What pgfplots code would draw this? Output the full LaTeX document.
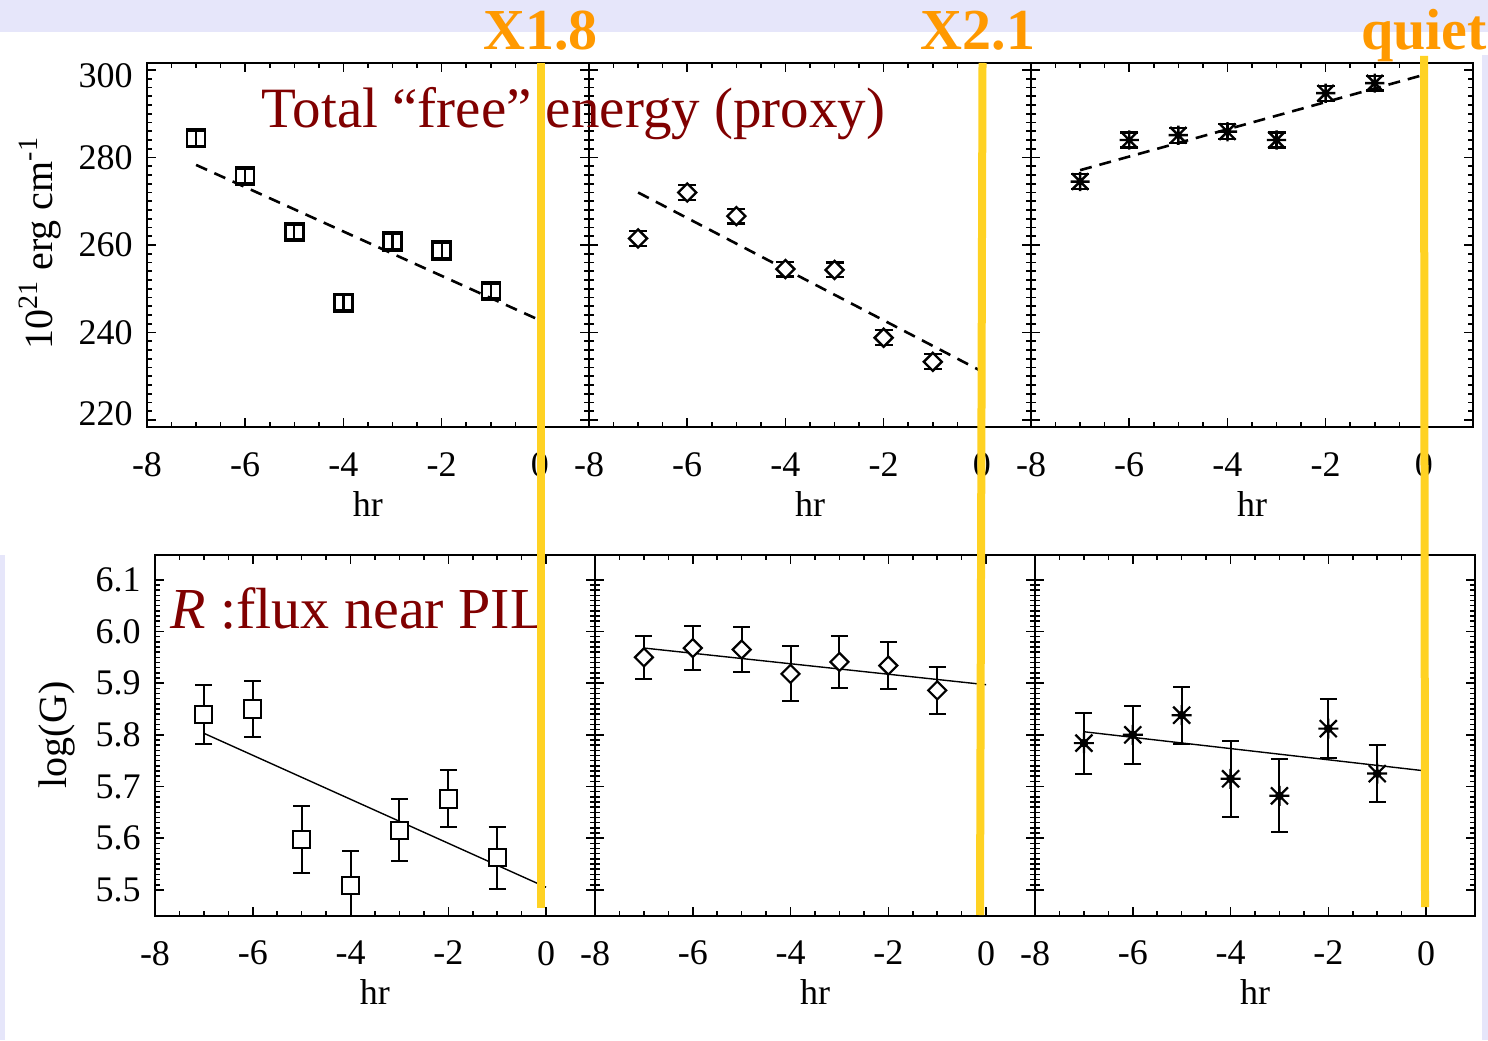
\documentclass[border=0pt]{standalone}
\usepackage{fontspec}
\setmainfont{Liberation Serif}
\usepackage{pgfplots}
\pgfplotsset{compat=1.18}
\definecolor{lav}{RGB}{230,230,250}
\definecolor{orng}{RGB}{255,153,0}
\definecolor{dred}{RGB}{128,0,0}
\definecolor{ylw}{RGB}{255,210,35}

\pgfdeclareplotmark{sqd}{%
 \pgfpathmoveto{\pgfqpoint{0pt}{\pgfplotmarksize}}%
 \pgfpathlineto{\pgfqpoint{\pgfplotmarksize}{0pt}}%
 \pgfpathlineto{\pgfqpoint{0pt}{-\pgfplotmarksize}}%
 \pgfpathlineto{\pgfqpoint{-\pgfplotmarksize}{0pt}}%
 \pgfpathclose\pgfusepathqfillstroke}
\pgfdeclareplotmark{xast}{%
 \pgfpathmoveto{\pgfqpoint{-\pgfplotmarksize}{0pt}}\pgfpathlineto{\pgfqpoint{\pgfplotmarksize}{0pt}}%
 \pgfpathmoveto{\pgfqpoint{-0.85\pgfplotmarksize}{-0.85\pgfplotmarksize}}\pgfpathlineto{\pgfqpoint{0.85\pgfplotmarksize}{0.85\pgfplotmarksize}}%
 \pgfpathmoveto{\pgfqpoint{-0.85\pgfplotmarksize}{0.85\pgfplotmarksize}}\pgfpathlineto{\pgfqpoint{0.85\pgfplotmarksize}{-0.85\pgfplotmarksize}}%
 \pgfpathmoveto{\pgfqpoint{0pt}{-\pgfplotmarksize}}\pgfpathlineto{\pgfqpoint{0pt}{\pgfplotmarksize}}%
 \pgfusepathqstroke}

\newcommand{\tl}{\fontsize{18pt}{20pt}\selectfont}

\pgfplotsset{
 panel/.style={
  scale only axis, anchor=south west,
  xmin=-8, xmax=1,
  xtick={-8,-6,-4,-2,0}, xticklabels={-8,-6,-4,-2,0},
  minor x tick num=3,
  tick align=inside,
  major tick length=4.5pt, minor tick length=2.5pt,
  tick style={black, line width=0.8pt},
  axis line style={line width=1pt},
  tick label style={font=\tl},
  xticklabel style={inner sep=0pt, anchor=north, yshift=-12.5pt},
  yticklabel style={inner sep=0pt, anchor=east, xshift=-7pt},
  xlabel={hr},
  xlabel style={font=\tl, inner sep=0pt, at={(axis description cs:0.5,0)}, anchor=base, yshift=-44.5pt},
 },
 toprow/.style={panel, width=221pt, height=182pt, ymin=218.4, ymax=301.6,
  ytick={220,240,260,280,300}, minor y tick num=9},
 botrow/.style={panel, width=220pt, height=180.35pt, ymin=5.45, ymax=6.148,
  ytick={5.5,5.6,5.7,5.8,5.9,6.0,6.1}, minor y tick num=9},
 topmk/.style={black, only marks, mark options={line width=1.2pt, solid, fill=white},
  error bars/.cd, y dir=both, y explicit,
  error bar style={line width=1.1pt, black, solid},
  error mark options={rotate=90, mark size=4.5pt, line width=1.1pt, black}, /pgfplots/.cd},
 errb/.style={black, only marks, mark=none,
  error bars/.cd, y dir=both, y explicit,
  error bar style={line width=1pt, black, solid},
  error mark options={rotate=90, mark size=4.25pt, line width=1pt, black}, /pgfplots/.cd},
 fitd/.style={black, line width=1.3pt, dash pattern=on 6pt off 4pt, mark=none},
 fits/.style={black, line width=0.7pt, mark=none},
}

\begin{document}
\begin{tikzpicture}
\useasboundingbox (0,0) rectangle (744pt,520pt);
\fill[lav] (0,0) rectangle (744pt,520pt);
\fill[white] (0,0) rectangle (744pt,504pt);
\fill[lav] (741pt,0) rectangle (744pt,492.5pt);
\fill[lav] (0,0) rectangle (2.5pt,242.5pt);

% ---------- top row ----------
\begin{axis}[toprow, at={(73.5pt,306.5pt)},
  yticklabels={\raisebox{3.5pt}[12.2pt][0pt]{220},240,260,280,\raisebox{-2.5pt}[12.2pt][0pt]{300}},
  ylabel={10\textsuperscript{21} erg cm\textsuperscript{-1}},
  ylabel style={font=\fontsize{20pt}{22pt}\selectfont, at={(axis description cs:-0.242,0.505)}, anchor=center}]
\addplot[fitd] coordinates {(-7,278.3) (0,242.8)};
\addplot[topmk, mark=square, mark size=4.5pt] coordinates {
(-7,284.4) +- (0,1.7) (-6,275.8) +- (0,1.7) (-5,263.0) +- (0,1.7) (-4,246.8) +- (0,1.7)
(-3,260.8) +- (0,1.7) (-2,258.7) +- (0,1.7) (-1,249.5) +- (0,1.7)};
\end{axis}

\begin{axis}[toprow, at={(294.5pt,306.5pt)}, yticklabels={}]
\addplot[fitd] coordinates {(-7,272.0) (0,231.1)};
\addplot[topmk, mark=sqd, mark size=4.5pt] coordinates {
(-7,261.5) +- (0,1.7) (-6,272.0) +- (0,1.7) (-5,266.6) +- (0,1.7) (-4,254.5) +- (0,1.7)
(-3,254.3) +- (0,1.7) (-2,238.8) +- (0,1.7) (-1,233.3) +- (0,1.7)};
\end{axis}

\begin{axis}[toprow, at={(515.5pt,306.5pt)}, yticklabels={}]
\addplot[fitd] coordinates {(-7,277.1) (0,298.9)};
\addplot[topmk, mark=xast, mark size=4.8pt] coordinates {
(-7,274.5) +- (0,1.7) (-6,284.0) +- (0,1.7) (-5,285.1) +- (0,1.7) (-4,285.9) +- (0,1.7)
(-3,284.0) +- (0,1.7) (-2,294.7) +- (0,1.7) (-1,297.0) +- (0,1.7)};
\end{axis}

% ---------- bottom row ----------
\begin{axis}[botrow, at={(77.5pt,62.15pt)},
  yticklabels={5.5,5.6,5.7,5.8,5.9,6.0,6.1},
  ylabel={log(G)},
  ylabel style={font=\fontsize{20pt}{22pt}\selectfont, at={(axis description cs:-0.2227,0.501)}, anchor=center}]
\addplot[errb] coordinates {
(-7,5.839) +- (0,0.057) (-6,5.850) +- (0,0.055) (-5,5.597) +- (0,0.065) (-4,5.509) +- (0,0.067)
(-3,5.615) +- (0,0.060) (-2,5.676) +- (0,0.055) (-1,5.562) +- (0,0.060)};
\addplot[black, only marks, mark=square*, mark size=4.3pt, mark options={fill=white, draw=black, line width=1pt}] coordinates {
(-7,5.839) (-6,5.850) (-5,5.597) (-4,5.509) (-3,5.615) (-2,5.676) (-1,5.562)};
\addplot[fits] coordinates {(-7,5.803) (0,5.505)};
\end{axis}

\begin{axis}[botrow, at={(297.5pt,62.15pt)}, yticklabels={}]
\addplot[errb] coordinates {
(-7,5.950) +- (0,0.042) (-6,5.968) +- (0,0.0425) (-5,5.965) +- (0,0.043) (-4,5.918) +- (0,0.053)
(-3,5.941) +- (0,0.050) (-2,5.934) +- (0,0.046) (-1,5.886) +- (0,0.046)};
\addplot[black, only marks, mark=sqd, mark size=4.5pt, mark options={fill=white, draw=black, line width=1.1pt}] coordinates {
(-7,5.950) (-6,5.968) (-5,5.965) (-4,5.918) (-3,5.941) (-2,5.934) (-1,5.886)};
\addplot[fits] coordinates {(-7,5.968) (0,5.897)};
\end{axis}

\begin{axis}[botrow, at={(517.5pt,62.15pt)}, yticklabels={}]
\addplot[errb] coordinates {
(-7,5.784) +- (0,0.059) (-6,5.800) +- (0,0.056) (-5,5.838) +- (0,0.055) (-4,5.715) +- (0,0.0735)
(-3,5.682) +- (0,0.0706) (-2,5.812) +- (0,0.057) (-1,5.725) +- (0,0.055)};
\addplot[black, only marks, mark=xast, mark size=5pt, mark options={line width=1.1pt}] coordinates {
(-7,5.784) (-6,5.800) (-5,5.838) (-4,5.715) (-3,5.682) (-2,5.812) (-1,5.725)};
\addplot[fits] coordinates {(-7,5.806) (0,5.730)};
\end{axis}

% ---------- annotations ----------
\node[anchor=base, inner sep=0pt, text=dred, font=\fontsize{28.5pt}{30pt}\selectfont] at (286.75pt,456pt) {Total “free” energy (proxy)};
\node[anchor=base west, inner sep=0pt, text=dred, font=\fontsize{29pt}{31pt}\selectfont] at (85pt,206pt) {\textit{R} :flux near PIL};

\draw[ylw, line width=4pt] (270.35pt,488.5pt) -- (270.35pt,66pt);
\draw[ylw, line width=4pt] (491.25pt,488.5pt) -- (490pt,62.5pt);
\draw[ylw, line width=4pt] (712pt,492pt) -- (712.5pt,66.5pt);

\node[anchor=base, inner sep=0pt, text=orng, font=\fontsize{29pt}{31pt}\selectfont\bfseries] at (270.25pt,495pt) {X1.8};
\node[anchor=base, inner sep=0pt, text=orng, font=\fontsize{29pt}{31pt}\selectfont\bfseries] at (489pt,495pt) {X2.1};
\node[anchor=base, inner sep=0pt, text=orng, font=\fontsize{29pt}{31pt}\selectfont\bfseries] at (712pt,495pt) {quiet};
\end{tikzpicture}
\end{document}
